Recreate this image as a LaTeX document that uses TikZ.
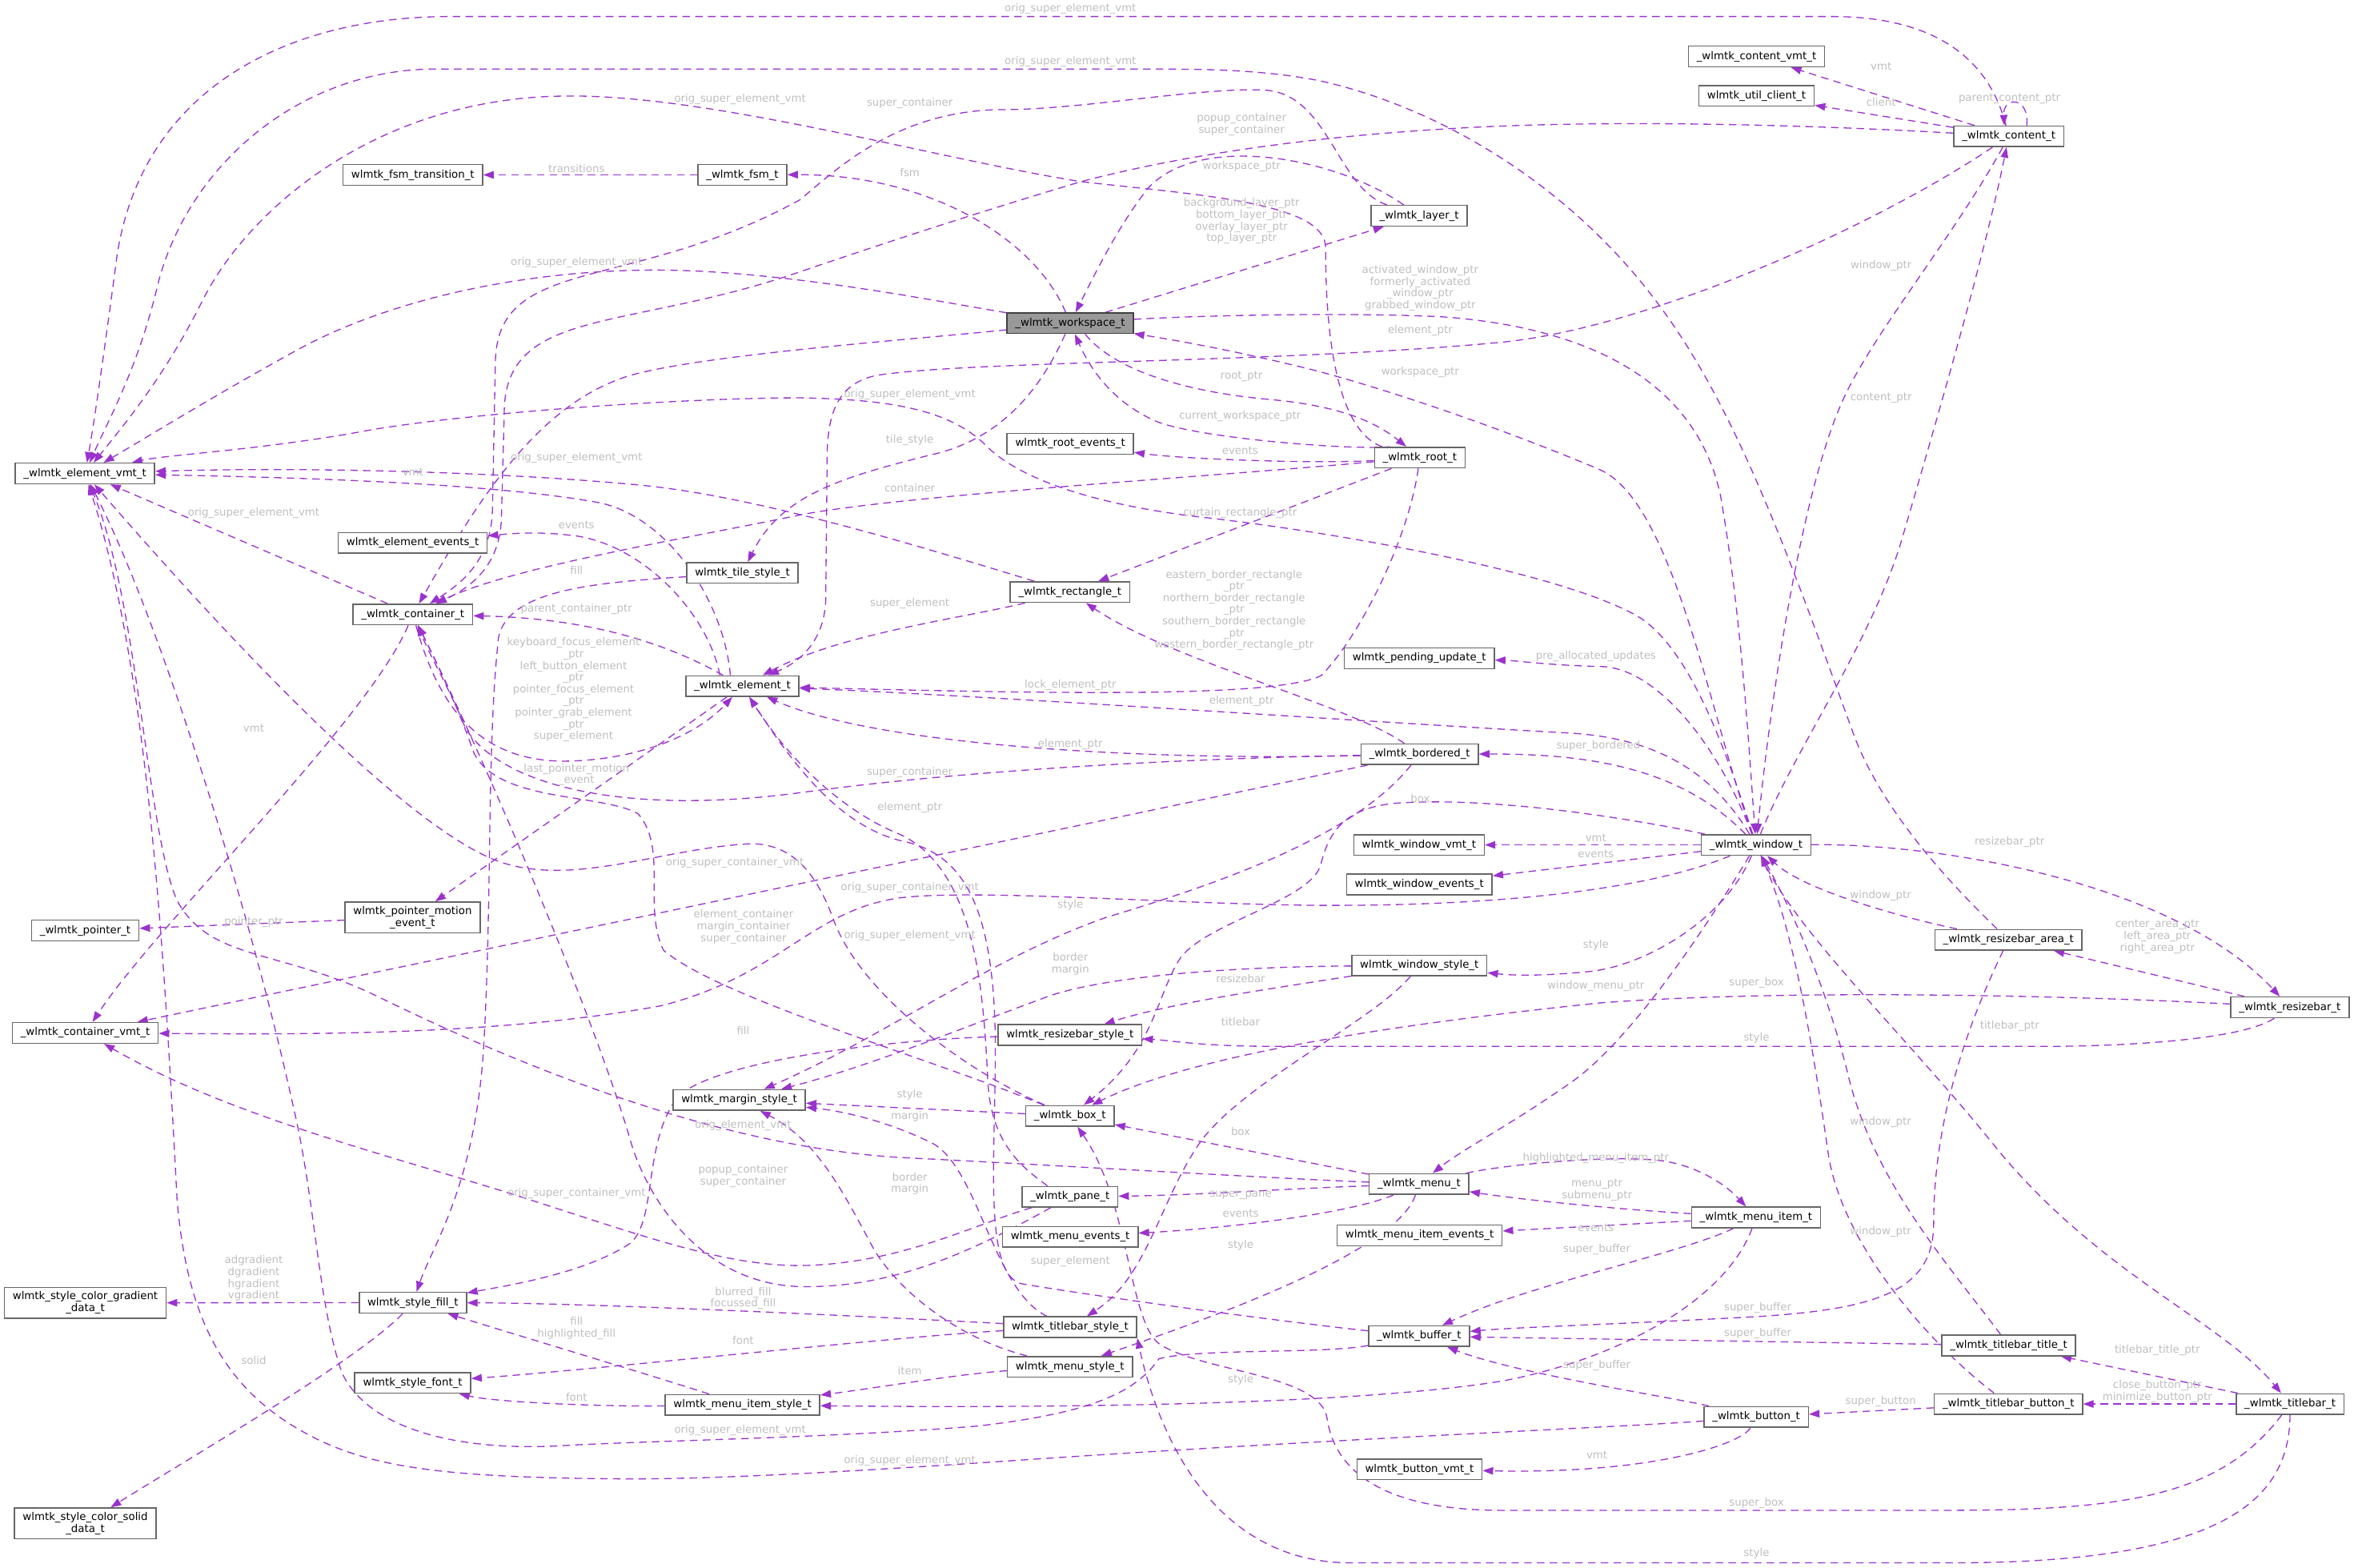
\documentclass[tikz,border=0pt]{standalone}
\usepackage{fontspec}
\setmainfont{DejaVu Sans}
\usetikzlibrary{arrows.meta}
\definecolor{orchid}{HTML}{9A32CD}
\definecolor{boxgray}{HTML}{666666}
\definecolor{lblgray}{HTML}{BEBEBE}
\definecolor{focusgray}{HTML}{999999}
\pgfdeclarelayer{bg}
\pgfsetlayers{bg,main}
\begin{document}
\begin{tikzpicture}[x=1pt,y=-1pt]
    \tikzstyle{cls}=[draw=boxgray,fill=white,line width=0.8pt,inner xsep=5.5pt,inner ysep=2.8pt,minimum height=13.7pt,align=center,font=\fontsize{7.1}{7.8}\selectfont]
    \tikzstyle{focus}=[cls,fill=focusgray,draw=black!75]
    \tikzstyle{lbl}=[text=lblgray,inner sep=0pt,align=center,font=\fontsize{7.1}{7.8}\selectfont]
    \tikzstyle{dep}=[draw=orchid,line width=0.7pt,dash pattern=on 5pt off 3.5pt,-{Triangle[length=7pt,width=5pt]}]
    \useasboundingbox (0,0) rectangle (1568,1044);

    \node (evmt)[cls] at (56.6,315.4) {\_wlmtk\_element\_vmt\_t};
    \node (fsmtr)[cls] at (275,116.5) {wlmtk\_fsm\_transition\_t};
    \node (fsm)[cls] at (494.5,116.5) {\_wlmtk\_fsm\_t};
    \node (ws)[focus] at (712.8,215.3) {\_wlmtk\_workspace\_t};
    \node (layer)[cls] at (945.3,143.7) {\_wlmtk\_layer\_t};
    \node (cvmt)[cls] at (1170,37.6) {\_wlmtk\_content\_vmt\_t};
    \node (client)[cls] at (1170,63.9) {wlmtk\_util\_client\_t};
    \node (content)[cls] at (1338,90.8) {\_wlmtk\_content\_t};
    \node (rootev)[cls] at (712.9,295.6) {wlmtk\_root\_events\_t};
    \node (root)[cls] at (945.7,304.8) {\_wlmtk\_root\_t};
    \node (eev)[cls] at (274.9,361.6) {wlmtk\_element\_events\_t};
    \node (tile)[cls] at (494.5,381.6) {wlmtk\_tile\_style\_t};
    \node (cont)[cls] at (275,409.3) {\_wlmtk\_container\_t};
    \node (rect)[cls] at (712.7,394.4) {\_wlmtk\_rectangle\_t};
    \node (elem)[cls] at (494.5,457) {\_wlmtk\_element\_t};
    \node (pend)[cls] at (945.4,438.5) {wlmtk\_pending\_update\_t};
    \node (bord)[cls] at (945.6,502.4) {\_wlmtk\_bordered\_t};
    \node (win)[cls] at (1169.7,562.8) {\_wlmtk\_window\_t};
    \node (wvmt)[cls] at (945.2,562.8) {wlmtk\_window\_vmt\_t};
    \node (wev)[cls] at (945.4,589.1) {wlmtk\_window\_events\_t};
    \node (pme)[cls] at (274.8,611.1) {wlmtk\_pointer\_motion\\\_event\_t};
    \node (ptr)[cls] at (56.8,619.8) {\_wlmtk\_pointer\_t};
    \node (rarea)[cls] at (1337.8,626) {\_wlmtk\_resizebar\_area\_t};
    \node (wstyle)[cls] at (945.4,643.1) {wlmtk\_window\_style\_t};
    \node (rbar)[cls] at (1525.3,671) {\_wlmtk\_resizebar\_t};
    \node (ctvmt)[cls] at (56.8,688) {\_wlmtk\_container\_vmt\_t};
    \node (rstyle)[cls] at (712.7,689.4) {wlmtk\_resizebar\_style\_t};
    \node (mstyle)[cls] at (492.4,732.7) {wlmtk\_margin\_style\_t};
    \node (box)[cls] at (712.7,743.3) {\_wlmtk\_box\_t};
    \node (menu)[cls] at (945.2,788.7) {\_wlmtk\_menu\_t};
    \node (pane)[cls] at (712.7,797.2) {\_wlmtk\_pane\_t};
    \node (mitem)[cls] at (1169.7,810.9) {\_wlmtk\_menu\_item\_t};
    \node (menuev)[cls] at (712.9,823.8) {wlmtk\_menu\_events\_t};
    \node (mitemev)[cls] at (945.6,822.9) {wlmtk\_menu\_item\_events\_t};
    \node (grad)[cls] at (56.8,867.8) {wlmtk\_style\_color\_gradient\\\_data\_t};
    \node (sfill)[cls] at (275,867.7) {wlmtk\_style\_fill\_t};
    \node (tstyle)[cls] at (712.8,884) {wlmtk\_titlebar\_style\_t};
    \node (buf)[cls] at (945.2,890) {\_wlmtk\_buffer\_t};
    \node (ttitle)[cls] at (1338,896.2) {\_wlmtk\_titlebar\_title\_t};
    \node (sfont)[cls] at (274.9,921.1) {wlmtk\_style\_font\_t};
    \node (menustyle)[cls] at (712.7,910.4) {wlmtk\_menu\_style\_t};
    \node (mistyle)[cls] at (494.6,935.8) {wlmtk\_menu\_item\_style\_t};
    \node (tbtn)[cls] at (1337.8,935.2) {\_wlmtk\_titlebar\_button\_t};
    \node (tbar)[cls] at (1525.4,935.2) {\_wlmtk\_titlebar\_t};
    \node (btn)[cls] at (1169.8,943.8) {\_wlmtk\_button\_t};
    \node (bvmt)[cls] at (945.5,978.7) {wlmtk\_button\_vmt\_t};
    \node (solid)[cls] at (56.8,1014.7) {wlmtk\_style\_color\_solid\\\_data\_t};

    \begin{pgfonlayer}{bg}
    \draw[dep] (fsm) -- (fsmtr);
    \draw[dep] (ws) .. controls (690,160) and (620,116) .. (fsm);
    \draw[dep] (ws) -- (layer);
    \draw[dep] (layer) .. controls (890,105) and (800,88) .. (765,125) .. controls (745,150) and (728,185) .. (ws);
    \draw[dep] (layer) .. controls (890,125) and (885,62) .. (842,60) .. controls (800,58) and (720,73) .. (669,73) .. controls (600,73) and (560,110) .. (533,133) .. controls (420,195) and (332,170) .. (330,240) -- (328,340) .. controls (327,375) and (305,390) .. (cont);
    \draw[dep] (content) .. controls (1220,84) and (1100,80) .. (1000,84) .. controls (900,88) and (800,100) .. (720,121) .. controls (640,145) and (580,165) .. (533,181) .. controls (420,220) and (340,205) .. (336,270) -- (334,345) .. controls (333,378) and (312,392) .. (cont);
    \draw[dep] (ws) .. controls (610,226) and (470,236) .. (420,250) .. controls (360,268) and (320,330) .. (cont);
    \draw[dep] (ws) .. controls (620,200) and (510,178) .. (425,180) .. controls (330,182) and (250,205) .. (200,232) .. controls (140,265) and (100,290) .. (evmt);
    \draw[dep] ([xshift=-25pt]root.north) .. controls (885,285) and (883,200) .. (883,165) .. controls (883,135) and (800,130) .. (720,121) .. controls (620,105) and (470,62) .. (374,64) .. controls (250,66) and (165,140) .. (135,200) .. controls (110,250) and (85,280) .. (evmt);
    \draw[dep] (content) .. controls (1325,40) and (1290,11) .. (1220,11) -- (300,11) .. controls (190,11) and (95,60) .. (78,170) .. controls (70,230) and (63,280) .. (evmt);
    \draw[dep] (rarea) .. controls (1290,580) and (1252,535) .. (1235,490) .. controls (1195,380) and (1160,280) .. (1110,210) .. controls (1050,125) and (960,72) .. (880,54) .. controls (840,46) and (800,46) .. (760,46) -- (290,46) .. controls (200,46) and (125,110) .. (105,190) .. controls (92,245) and (72,280) .. (evmt);
    \draw[dep] (win) .. controls (1150,500) and (1125,430) .. (1090,410) .. controls (1040,382) and (900,356) .. (805,345) .. controls (740,338) and (680,322) .. (655,295) .. controls (630,272) and (590,266) .. (533,265) .. controls (450,265) and (300,276) .. (238,288) .. controls (170,300) and (110,303) .. (evmt);
    \draw[dep] (rect) .. controls (600,360) and (500,330) .. (425,323) .. controls (330,314) and (200,311) .. (evmt);
    \draw[dep] ([xshift=-8pt]elem.north) .. controls (482,400) and (445,345) .. (400,335) .. controls (330,322) and (200,318) .. (evmt);
    \draw[dep] (cont) -- (evmt);
    \draw[dep] (content) -- (cvmt);
    \draw[dep] (content) -- (client);
    \draw[dep] ([xshift=12pt]content.north) .. controls (1352,64) and (1334,64) .. ([xshift=-3pt]content.north);
    \draw[dep] (content) .. controls (1300,160) and (1245,225) .. (1226,270) .. controls (1200,330) and (1180,460) .. (win);
    \draw[dep] (win) .. controls (1195,500) and (1245,430) .. (1266,362) .. controls (1290,280) and (1322,170) .. (content);
    \draw[dep] (ws) .. controls (800,210) and (900,208) .. (960,211) .. controls (1060,218) and (1130,255) .. (1146,330) .. controls (1160,410) and (1165,500) .. (win);
    \draw[dep] (win) .. controls (1140,480) and (1115,335) .. (1066,313) .. controls (1000,285) and (920,258) .. (873,246) .. controls (820,233) and (785,227) .. (ws);
    \draw[dep] (content) .. controls (1250,150) and (1100,218) .. (1000,228) .. controls (850,242) and (650,240) .. (584,250) .. controls (560,255) and (552,272) .. (551,300) -- (550,400) .. controls (549,425) and (535,440) .. (elem);
    \draw[dep] ([xshift=10pt]ws.south) .. controls (745,250) and (800,262) .. (845,266) .. controls (890,270) and (915,280) .. (root);
    \draw[dep] ([xshift=-20pt]root.north) .. controls (900,300) and (800,292) .. (771,281) .. controls (745,270) and (728,250) .. (ws);
    \draw[dep] (root) .. controls (880,309) and (790,306) .. (rootev);
    \draw[dep] (root) .. controls (800,318) and (600,330) .. (533,343) .. controls (450,360) and (340,378) .. (cont);
    \draw[dep] (root) -- (rect);
    \draw[dep] (root) .. controls (938,360) and (905,425) .. (880,450) .. controls (850,465) and (700,462) .. (elem);
    \draw[dep] (rect) .. controls (640,412) and (560,422) .. (elem);
    \draw[dep] (ws) .. controls (695,255) and (670,292) .. (620,303) .. controls (560,318) and (520,330) .. (tile);
    \draw[dep] ([xshift=-15pt]elem.north) .. controls (472,410) and (430,364) .. (384,357) .. controls (360,354) and (345,355) .. (eev);
    \draw[dep] (elem) .. controls (450,432) and (400,412) .. (cont);
    \draw[dep] (cont) .. controls (292,470) and (318,506) .. (374,507) .. controls (420,507) and (462,492) .. (elem);
    \draw[dep] (elem) -- (pme);
    \draw[dep] (pme) -- (ptr);
    \draw[dep] (cont) .. controls (245,480) and (105,615) .. (ctvmt);
    \draw[dep] (bord) -- (ctvmt);
    \draw[dep] (win) .. controls (1100,592) and (1000,604) .. (873,603) .. controls (780,602) and (650,592) .. (600,598) .. controls (540,606) and (520,650) .. (440,670) .. controls (330,690) and (200,689) .. (ctvmt);
    \draw[dep] (rstyle) .. controls (600,692) and (480,705) .. (452,730) .. controls (428,760) and (438,812) .. (420,828) .. controls (390,848) and (340,856) .. (sfill);
    \draw[dep] (box) .. controls (620,705) and (480,665) .. (442,633) .. controls (428,605) and (445,565) .. (425,542) .. controls (400,528) and (330,535) .. (315,500) .. controls (305,470) and (290,440) .. (cont);
    \draw[dep] (bord) .. controls (800,505) and (650,512) .. (533,528) .. controls (420,543) and (335,525) .. (310,485) .. controls (300,460) and (288,440) .. (cont);
    \draw[dep] (pane) .. controls (640,838) and (590,858) .. (533,857) .. controls (465,855) and (430,795) .. (420,760) .. controls (400,690) and (330,520) .. (cont);
    \draw[dep] (pane) .. controls (650,815) and (600,842) .. (533,843) .. controls (480,843) and (425,822) .. (340,795) .. controls (250,767) and (150,742) .. (ctvmt);
    \draw[dep] (box) .. controls (640,712) and (572,660) .. (555,612) .. controls (545,585) and (530,562) .. (500,562) .. controls (440,565) and (380,592) .. (330,573) .. controls (260,545) and (130,400) .. (evmt);
    \draw[dep] (box) -- (mstyle);
    \draw[dep] (tstyle) .. controls (662,860) and (652,780) .. (622,762) .. controls (590,746) and (560,740) .. (mstyle);
    \draw[dep] (menustyle) .. controls (640,892) and (600,862) .. (582,832) .. controls (562,795) and (545,760) .. (mstyle);
    \draw[dep] (wstyle) .. controls (820,644) and (740,650) .. (700,663) .. controls (640,685) and (580,710) .. (mstyle);
    \draw[dep] (bord) .. controls (900,560) and (800,592) .. (737,611) .. controls (660,638) and (590,690) .. (mstyle);
    \draw[dep] (wstyle) .. controls (850,658) and (780,668) .. (rstyle);
    \draw[dep] (wstyle) .. controls (915,680) and (830,720) .. (800,760) .. controls (772,800) and (765,850) .. (tstyle);
    \draw[dep] (win) .. controls (1100,548) and (1000,530) .. (930,535) .. controls (895,538) and (885,555) .. (880,575) .. controls (875,600) and (800,615) .. (785,640) .. controls (770,665) and (768,700) .. (box);
    \draw[dep] (win) -- (wvmt);
    \draw[dep] (win) -- (wev);
    \draw[dep] (win) .. controls (1150,610) and (1100,642) .. (1060,647) .. controls (1030,650) and (1010,650) .. (wstyle);
    \draw[dep] (win) .. controls (1135,620) and (1085,695) .. (1045,722) .. controls (1005,750) and (975,765) .. (menu);
    \draw[dep] (win) .. controls (1300,562) and (1450,590) .. (rbar);
    \draw[dep] (win) .. controls (1195,620) and (1270,690) .. (1330,765) .. controls (1400,850) and (1480,880) .. (tbar);
    \draw[dep] (rarea) .. controls (1262,610) and (1200,592) .. (win);
    \draw[dep] (rbar) -- (rarea);
    \draw[dep] (rbar) .. controls (1400,664) and (1200,658) .. (1066,668) .. controls (950,680) and (800,700) .. (box);
    \draw[dep] (rbar) .. controls (1495,692) and (1420,697) .. (1360,697) -- (850,697) .. controls (800,697) and (780,693) .. (rstyle);
    \draw[dep] (ttitle) .. controls (1300,845) and (1250,790) .. (1232,720) .. controls (1215,650) and (1190,600) .. (win);
    \draw[dep] (tbtn) .. controls (1285,895) and (1228,830) .. (1218,770) .. controls (1208,700) and (1195,620) .. (win);
    \draw[dep] (tbtn) -- (btn);
    \draw[dep] (tbar) -- (ttitle);
    \draw[dep] (tbar) -- (tbtn);
    \draw[dep] (tbar) .. controls (1480,995) and (1420,1006) .. (1300,1006) -- (1000,1006) .. controls (930,1006) and (890,985) .. (884,945) .. controls (880,915) and (800,914) .. (772,895) .. controls (752,880) and (752,800) .. (box);
    \draw[dep] (tbar) .. controls (1525,1000) and (1480,1041) .. (1300,1041) -- (900,1041) .. controls (800,1041) and (768,940) .. (tstyle.south east);
    \draw[dep] (rarea) .. controls (1302,700) and (1288,760) .. (1288,815) .. controls (1288,860) and (1250,872) .. (1170,877) .. controls (1080,882) and (1010,884) .. (buf);
    \draw[dep] (ttitle) -- (buf);
    \draw[dep] (mitem) .. controls (1120,835) and (1020,855) .. (buf);
    \draw[dep] (btn) .. controls (1110,930) and (1010,915) .. (buf);
    \draw[dep] (btn) .. controls (1160,962) and (1100,982) .. (bvmt);
    \draw[dep] (btn) .. controls (1090,950) and (900,958) .. (703,971) .. controls (600,978) and (480,986) .. (408,985) .. controls (300,984) and (250,978) .. (210,958) .. controls (150,928) and (125,880) .. (118,800) .. controls (110,650) and (100,450) .. (evmt);
    \draw[dep] (buf) .. controls (880,902) and (800,898) .. (772,905) .. controls (755,930) and (720,942) .. (650,950) .. controls (550,958) and (420,960) .. (374,963) .. controls (300,967) and (245,950) .. (228,915) .. controls (212,870) and (210,800) .. (196,740) .. controls (170,620) and (110,420) .. (evmt);
    \draw[dep] (menu) .. controls (850,785) and (700,776) .. (600,771) .. controls (480,764) and (350,712) .. (250,663) .. controls (185,632) and (140,640) .. (118,600) .. controls (98,555) and (92,400) .. (evmt);
    \draw[dep] (menu) -- (box);
    \draw[dep] (menu) .. controls (850,792) and (800,796) .. (pane);
    \draw[dep] (menu) .. controls (900,808) and (820,818) .. (menuev);
    \draw[dep] (menu) .. controls (930,835) and (800,880) .. (menustyle);
    \draw[dep] (menu) .. controls (1000,776) and (1080,768) .. (1112,774) .. controls (1140,780) and (1155,795) .. (mitem);
    \draw[dep] (mitem) .. controls (1085,806) and (1020,800) .. (menu);
    \draw[dep] (mitem) -- (mitemev);
    \draw[dep] (mitem) .. controls (1150,865) and (1080,905) .. (1000,920) .. controls (900,936) and (700,938) .. (mistyle);
    \draw[dep] (menustyle) .. controls (640,915) and (580,925) .. (mistyle);
    \draw[dep] (mistyle) .. controls (440,918) and (340,888) .. (sfill);
    \draw[dep] (mistyle) .. controls (400,937) and (330,934) .. (sfont);
    \draw[dep] (tstyle) .. controls (600,878) and (400,868) .. (sfill);
    \draw[dep] (tstyle) .. controls (600,890) and (400,912) .. (sfont);
    \draw[dep] (sfill) -- (grad);
    \draw[dep] (sfill) .. controls (240,905) and (120,975) .. (solid);
    \draw[dep] (tile) .. controls (400,388) and (338,392) .. (332,425) .. controls (324,500) and (328,600) .. (322,700) .. controls (316,790) and (288,830) .. (sfill);
    \draw[dep] (win) .. controls (1120,512) and (1060,502) .. (bord);
    \draw[dep] (win) .. controls (1135,505) and (1090,490) .. (1040,488) .. controls (900,480) and (650,463) .. (elem);
    \draw[dep] (win) .. controls (1142,490) and (1100,444) .. (1066,444) .. controls (1030,443) and (1010,440) .. (pend);
    \draw[dep] (bord) .. controls (900,470) and (780,440) .. (rect);
    \draw[dep] (bord) .. controls (750,507) and (580,495) .. (elem);
    \draw[dep] ([xshift=-15pt]pane.north) .. controls (685,780) and (660,765) .. (658,720) .. controls (655,660) and (650,580) .. (600,556) .. controls (560,540) and (525,505) .. (elem);
    \draw[dep] (buf) .. controls (850,880) and (720,862) .. (680,855) .. controls (655,848) and (663,770) .. (663,700) .. controls (663,600) and (640,568) .. (600,560) .. controls (560,550) and (530,512) .. (elem);
    \end{pgfonlayer}

    \node (l1)[lbl] at (384,112) {transitions};
    \node (l2)[lbl] at (606,115) {fsm};
    \node (l3)[lbl] at (606,69) {super\_container};
    \node (l4)[lbl] at (827,83) {popup\_container\\super\_container};
    \node (l5)[lbl] at (827,111) {workspace\_ptr};
    \node (l6)[lbl] at (827,147.3) {background\_layer\_ptr\\bottom\_layer\_ptr\\overlay\_layer\_ptr\\top\_layer\_ptr};
    \node (l7)[lbl] at (713,6) {orig\_super\_element\_vmt};
    \node (l8)[lbl] at (713,41) {orig\_super\_element\_vmt};
    \node (l9)[lbl] at (493,66) {orig\_super\_element\_vmt};
    \node (l10)[lbl] at (384,175) {orig\_super\_element\_vmt};
    \node (l11)[lbl] at (606,263) {orig\_super\_element\_vmt};
    \node (l12)[lbl] at (384,305) {orig\_super\_element\_vmt};
    \node (l13)[lbl] at (169,342) {orig\_super\_element\_vmt};
    \node (l14)[lbl] at (606,623) {orig\_super\_element\_vmt};
    \node (l15)[lbl] at (493,953) {orig\_super\_element\_vmt};
    \node (l16)[lbl] at (606,973) {orig\_super\_element\_vmt};
    \node (l17)[lbl] at (1253,44) {vmt};
    \node (l18)[lbl] at (1253,68) {client};
    \node (l19)[lbl] at (1338.5,66) {parent\_content\_ptr};
    \node (l20)[lbl] at (1253,177) {window\_ptr};
    \node (l21)[lbl] at (1253,265) {content\_ptr};
    \node (l22)[lbl] at (946,192) {activated\_window\_ptr\\formerly\_activated\\\_window\_ptr\\grabbed\_window\_ptr};
    \node (l23)[lbl] at (946,220) {element\_ptr};
    \node (l24)[lbl] at (946,248) {workspace\_ptr};
    \node (l25)[lbl] at (827,251) {root\_ptr};
    \node (l26)[lbl] at (826,277) {current\_workspace\_ptr};
    \node (l27)[lbl] at (606,293) {tile\_style};
    \node (l28)[lbl] at (826,300) {events};
    \node (l29)[lbl] at (606,325) {container};
    \node (l30)[lbl] at (826,342) {curtain\_rectangle\_ptr};
    \node (l31)[lbl] at (275,314.5) {vmt};
    \node (l32)[lbl] at (384,349.5) {events};
    \node (l33)[lbl] at (384,380) {fill};
    \node (l34)[lbl] at (606,402) {super\_element};
    \node (l35)[lbl] at (384,405.6) {parent\_container\_ptr};
    \node (l36)[lbl] at (822,406.5) {eastern\_border\_rectangle\\\_ptr\\northern\_border\_rectangle\\\_ptr\\southern\_border\_rectangle\\\_ptr\\western\_border\_rectangle\_ptr};
    \node (l37)[lbl] at (382,459.5) {keyboard\_focus\_element\\\_ptr\\left\_button\_element\\\_ptr\\pointer\_focus\_element\\\_ptr\\pointer\_grab\_element\\\_ptr\\super\_element};
    \node (l38)[lbl] at (1063,437) {pre\_allocated\_updates};
    \node (l39)[lbl] at (713,456.6) {lock\_element\_ptr};
    \node (l40)[lbl] at (827,467) {element\_ptr};
    \node (l41)[lbl] at (169,485) {vmt};
    \node (l42)[lbl] at (713,496) {element\_ptr};
    \node (l43)[lbl] at (1064.7,497) {super\_bordered};
    \node (l44)[lbl] at (384,516) {last\_pointer\_motion\\\_event};
    \node (l45)[lbl] at (606,514.5) {super\_container};
    \node (l46)[lbl] at (946,532) {box};
    \node (l47)[lbl] at (606,538) {element\_ptr};
    \node (l48)[lbl] at (1063,558) {vmt};
    \node (l49)[lbl] at (1063,569) {events};
    \node (l50)[lbl] at (489.5,575) {orig\_super\_container\_vmt};
    \node (l51)[lbl] at (606,591) {orig\_super\_container\_vmt};
    \node (l52)[lbl] at (384,795) {orig\_super\_container\_vmt};
    \node (l53)[lbl] at (1338.6,561) {resizebar\_ptr};
    \node (l54)[lbl] at (1252.7,596.6) {window\_ptr};
    \node (l55)[lbl] at (1252.7,747.7) {window\_ptr};
    \node (l56)[lbl] at (1252.7,820.5) {window\_ptr};
    \node (l57)[lbl] at (713,603) {style};
    \node (l58)[lbl] at (169,614) {pointer\_ptr};
    \node (l59)[lbl] at (495.3,617.4) {element\_container\\margin\_container\\super\_container};
    \node (l60)[lbl] at (1437,624) {center\_area\_ptr\\left\_area\_ptr\\right\_area\_ptr};
    \node (l61)[lbl] at (1063,629.4) {style};
    \node (l62)[lbl] at (713,642) {border\\margin};
    \node (l63)[lbl] at (606,788.5) {border\\margin};
    \node (l64)[lbl] at (826.4,652) {resizebar};
    \node (l65)[lbl] at (1170,654.8) {super\_box};
    \node (l66)[lbl] at (1170,1001.2) {super\_box};
    \node (l67)[lbl] at (1063,657) {window\_menu\_ptr};
    \node (l68)[lbl] at (826.4,680.5) {titlebar};
    \node (l69)[lbl] at (1338.6,683.7) {titlebar\_ptr};
    \node (l70)[lbl] at (495,686.4) {fill};
    \node (l71)[lbl] at (1170,691.5) {style};
    \node (l72)[lbl] at (606,729.4) {style};
    \node (l73)[lbl] at (606,743.6) {margin};
    \node (l74)[lbl] at (495,749.5) {orig\_element\_vmt};
    \node (l75)[lbl] at (826.4,753.7) {box};
    \node (l76)[lbl] at (1063,771.7) {highlighted\_menu\_item\_ptr};
    \node (l77)[lbl] at (495,783.3) {popup\_container\\super\_container};
    \node (l78)[lbl] at (1063.7,792.7) {menu\_ptr\\submenu\_ptr};
    \node (l79)[lbl] at (826.4,796) {super\_pane};
    \node (l80)[lbl] at (826.4,808) {events};
    \node (l81)[lbl] at (1063,818) {events};
    \node (l82)[lbl] at (826.4,829.3) {style};
    \node (l83)[lbl] at (1063.7,832.4) {super\_buffer};
    \node (l84)[lbl] at (1170.8,871.2) {super\_buffer};
    \node (l85)[lbl] at (1170.8,888.4) {super\_buffer};
    \node (l86)[lbl] at (1063.7,909.4) {super\_buffer};
    \node (l87)[lbl] at (713,840.3) {super\_element};
    \node (l88)[lbl] at (169,851.5) {adgradient\\dgradient\\hgradient\\vgradient};
    \node (l89)[lbl] at (495,864.7) {blurred\_fill\\focussed\_fill};
    \node (l90)[lbl] at (384,884.6) {fill\\highlighted\_fill};
    \node (l91)[lbl] at (495,893) {font};
    \node (l92)[lbl] at (1437,899.4) {titlebar\_title\_ptr};
    \node (l93)[lbl] at (169,906) {solid};
    \node (l94)[lbl] at (606,913) {item};
    \node (l95)[lbl] at (826.4,919) {style};
    \node (l96)[lbl] at (1437,926.8) {close\_button\_ptr\\minimize\_button\_ptr};
    \node (l97)[lbl] at (384,930.5) {font};
    \node (l98)[lbl] at (1252.7,933.7) {super\_button};
    \node (l99)[lbl] at (1063.7,969.2) {vmt};
    \node (l100)[lbl] at (1170,1034.5) {style};
\end{tikzpicture}
\end{document}
